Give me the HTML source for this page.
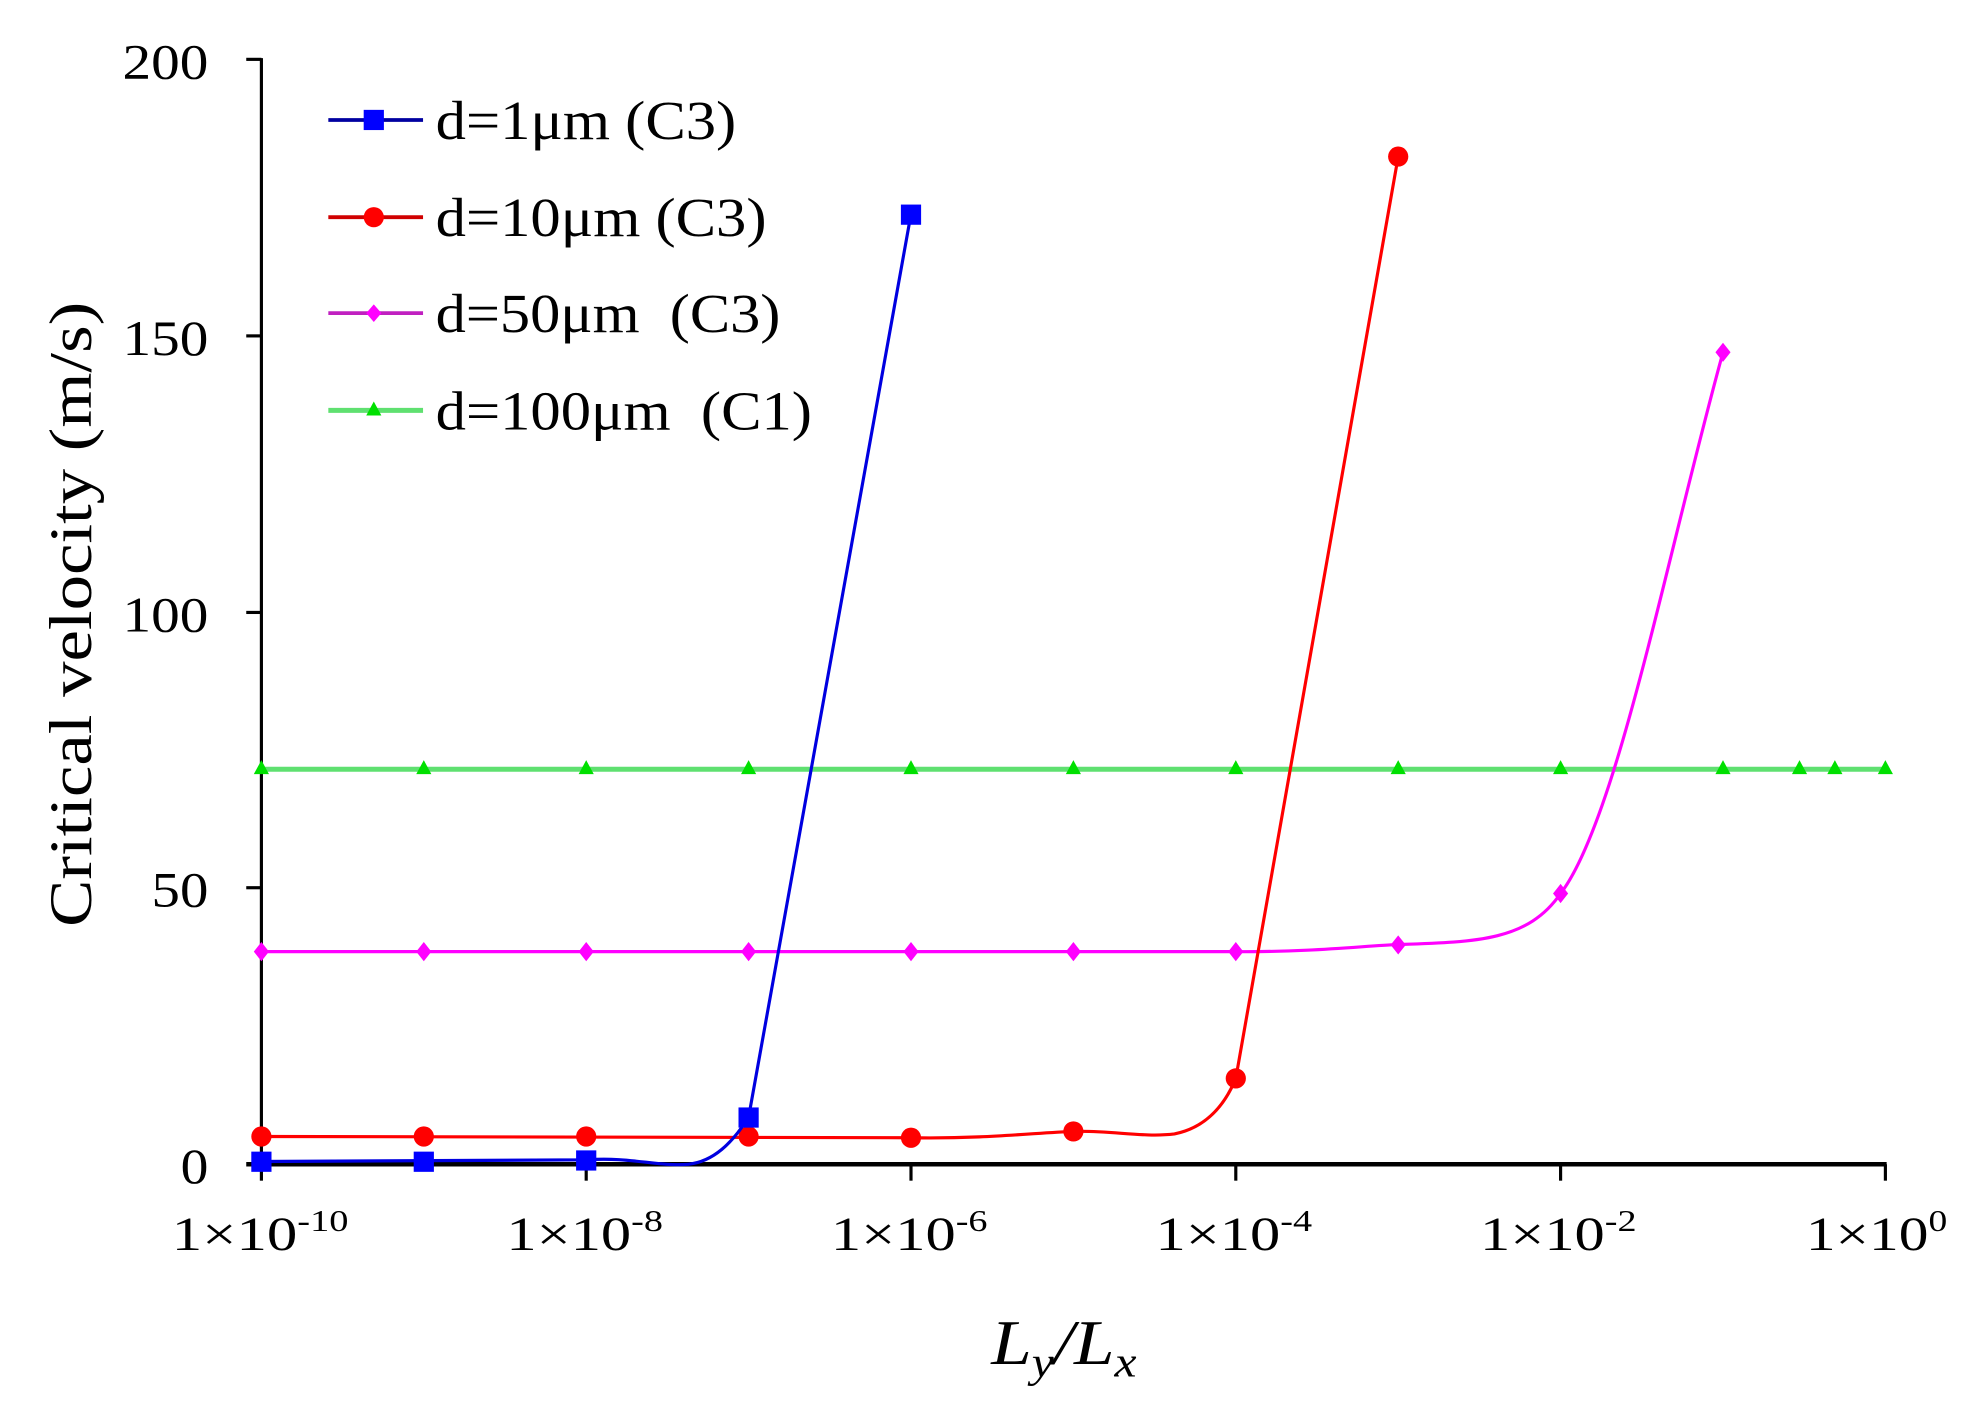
<!DOCTYPE html>
<html><head><meta charset="utf-8"><style>html,body{margin:0;padding:0;background:#fff}svg{display:block}</style></head>
<body>
<svg width="1970" height="1410" viewBox="0 0 1560 1116.6" preserveAspectRatio="none" xmlns="http://www.w3.org/2000/svg" font-family="Liberation Serif, serif">
<rect width="1560" height="1117" fill="#fff"/>
<line x1="207" y1="46" x2="207" y2="922" stroke="#000" stroke-width="2.5"/>
<line x1="195" y1="922" x2="1494" y2="922" stroke="#000" stroke-width="3.5"/>
<g stroke="#000" stroke-width="2.5">
<line x1="195" y1="47" x2="207" y2="47"/><line x1="195" y1="266" x2="207" y2="266"/><line x1="195" y1="485" x2="207" y2="485"/><line x1="195" y1="703" x2="207" y2="703"/>
<line x1="207" y1="922" x2="207" y2="935"/><line x1="464.2" y1="922" x2="464.2" y2="935"/><line x1="721.4" y1="922" x2="721.4" y2="935"/><line x1="978.6" y1="922" x2="978.6" y2="935"/><line x1="1235.8" y1="922" x2="1235.8" y2="935"/><line x1="1493" y1="922" x2="1493" y2="935"/>
</g>
<g font-size="39" fill="#000" lengthAdjust="spacingAndGlyphs">
<text x="97" y="62" textLength="68" lengthAdjust="spacingAndGlyphs">200</text>
<text x="97" y="281" textLength="68" lengthAdjust="spacingAndGlyphs">150</text>
<text x="97" y="500" textLength="68" lengthAdjust="spacingAndGlyphs">100</text>
<text x="120" y="718" textLength="45" lengthAdjust="spacingAndGlyphs">50</text>
<text x="143" y="937" textLength="22" lengthAdjust="spacingAndGlyphs">0</text>
</g>
<g font-size="38" fill="#000">
<text x="136" y="990" textLength="140" lengthAdjust="spacingAndGlyphs">1×10<tspan font-size="24" dy="-15">-10</tspan></text>
<text x="401" y="990" textLength="124" lengthAdjust="spacingAndGlyphs">1×10<tspan font-size="24" dy="-15">-8</tspan></text>
<text x="658" y="990" textLength="124" lengthAdjust="spacingAndGlyphs">1×10<tspan font-size="24" dy="-15">-6</tspan></text>
<text x="915" y="990" textLength="124" lengthAdjust="spacingAndGlyphs">1×10<tspan font-size="24" dy="-15">-4</tspan></text>
<text x="1172" y="990" textLength="124" lengthAdjust="spacingAndGlyphs">1×10<tspan font-size="24" dy="-15">-2</tspan></text>
<text x="1430" y="990" textLength="112" lengthAdjust="spacingAndGlyphs">1×10<tspan font-size="24" dy="-15">0</tspan></text>
</g>
<text x="785" y="1080" font-size="50" font-style="italic" textLength="115" lengthAdjust="spacingAndGlyphs">L<tspan font-size="34" dy="10">y</tspan><tspan dy="-10">/L</tspan><tspan font-size="34" dy="10">x</tspan></text>
<text transform="translate(72,487) rotate(-90)" font-size="48" x="-247" textLength="495" lengthAdjust="spacingAndGlyphs">Critical  velocity (m/s)</text>
<line x1="207" y1="609.2" x2="1493" y2="609.2" stroke="#5fe070" stroke-width="4"/>
<g fill="#00e000">
<path d="M207,602 l6,11 h-12z M335.6,602 l6,11 h-12z M464.2,602 l6,11 h-12z M592.8,602 l6,11 h-12z M721.4,602 l6,11 h-12z M850,602 l6,11 h-12z M978.6,602 l6,11 h-12z M1107.2,602 l6,11 h-12z M1235.8,602 l6,11 h-12z M1364.4,602 l6,11 h-12z M1425,602 l6,11 h-12z M1453,602 l6,11 h-12z M1493,602 l6,11 h-12z"/>
</g>
<path d="M207,753.6 L978.6,753.6 C1040,754 1080,749 1107,748 C1170,746 1210,745 1235.8,707.6 C1280,650 1320,440 1364.4,279" fill="none" stroke="#ff00ff" stroke-width="2.5"/>
<g fill="#ff00ff">
<path d="M207,746 l6,7.6 l-6,7.6 l-6,-7.6z M335.6,746 l6,7.6 l-6,7.6 l-6,-7.6z M464.2,746 l6,7.6 l-6,7.6 l-6,-7.6z M592.8,746 l6,7.6 l-6,7.6 l-6,-7.6z M721.4,746 l6,7.6 l-6,7.6 l-6,-7.6z M850,746 l6,7.6 l-6,7.6 l-6,-7.6z M978.6,746 l6,7.6 l-6,7.6 l-6,-7.6z M1107.2,740.7 l6,7.6 l-6,7.6 l-6,-7.6z M1235.8,700 l6,7.6 l-6,7.6 l-6,-7.6z M1364.4,271.4 l6,7.6 l-6,7.6 l-6,-7.6z"/>
</g>
<path d="M207,900 L721,901 C780,902 820,897 850,896 C880,895 905,901 930,898 C955,893 970,875 978.6,854 L1107.2,124" fill="none" stroke="#ff0000" stroke-width="2.5"/>
<g fill="#ff0000">
<circle cx="207" cy="900" r="8"/><circle cx="335.6" cy="900" r="8"/><circle cx="464.2" cy="900" r="8"/><circle cx="592.8" cy="900" r="8"/><circle cx="721.4" cy="901" r="8"/><circle cx="850" cy="896" r="8"/><circle cx="978.6" cy="854" r="8"/><circle cx="1107.2" cy="124" r="8"/>
</g>
<path d="M207,919.8 L464.2,918.5 C500,916 520,924 545,922 C565,920 580,905 592.8,884.8 L721.4,169.5" fill="none" stroke="#0000e0" stroke-width="2.5"/>
<g fill="#0000ff">
<rect x="199" y="912" width="16" height="16"/><rect x="327.6" y="912" width="16" height="16"/><rect x="456.2" y="911" width="16" height="16"/><rect x="584.8" y="877" width="16" height="16"/><rect x="713.4" y="162" width="16" height="16"/>
</g>
<g stroke-width="3">
<line x1="260" y1="95" x2="335" y2="95" stroke="#0000a0"/><rect x="288" y="87" width="16" height="16" fill="#0000ff"/>
<line x1="260" y1="172" x2="335" y2="172" stroke="#d00000"/><circle cx="296" cy="172" r="8" fill="#ff0000"/>
<line x1="260" y1="248" x2="335" y2="248" stroke="#c020c0"/><path d="M296,241 l6,7 l-6,7 l-6,-7z" fill="#ff00ff"/>
<line x1="260" y1="325" x2="335" y2="325" stroke="#5fe070" stroke-width="4"/><path d="M296,318 l6,11 h-12z" fill="#00e000"/>
</g>
<g font-size="44" fill="#000">
<text x="345" y="110" textLength="238" lengthAdjust="spacingAndGlyphs">d=1μm (C3)</text>
<text x="345" y="187" textLength="262" lengthAdjust="spacingAndGlyphs">d=10μm (C3)</text>
<text x="345" y="263" xml:space="preserve" textLength="273" lengthAdjust="spacingAndGlyphs">d=50μm  (C3)</text>
<text x="345" y="340" xml:space="preserve" textLength="298" lengthAdjust="spacingAndGlyphs">d=100μm  (C1)</text>
</g>
</svg>
</body></html>
